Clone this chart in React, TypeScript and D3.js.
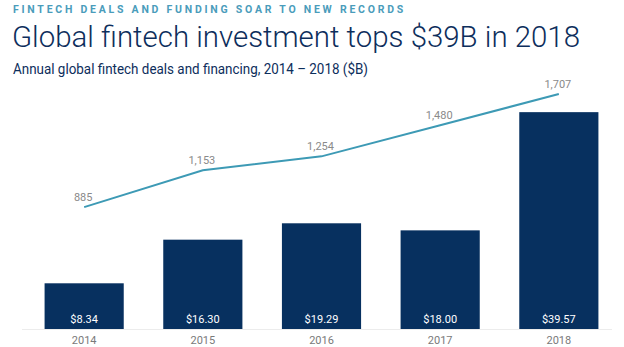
import React from "react";
import * as d3 from "d3";

const years = ["2014", "2015", "2016", "2017", "2018"];
const funding = [8.34, 16.3, 19.29, 18.0, 39.57];
const deals = [885, 1153, 1254, 1480, 1707];
const fundingLabels = ["$8.34", "$16.30", "$19.29", "$18.00", "$39.57"];
const dealLabels = ["885", "1,153", "1,254", "1,480", "1,707"];

const W = 624;
const H = 347;
const NAVY = "#07305f";
const TEAL = "#3d9ab5";

export default function App() {
  const x = d3.scaleBand<string>().domain(years).range([25, 618]).paddingInner(0.333).paddingOuter(0.165);
  const base = 329;
  const yBar = d3.scaleLinear().domain([0, 42.7]).range([base, 95]);
  const yLine = d3.scaleLinear().domain([0, 1707]).range([base, 94]);
  const line = d3
    .line<number>()
    .x((_, i) => (x(years[i]) as number) + x.bandwidth() / 2)
    .y((d) => yLine(d));

  return (
    <svg width={W} height={H} style={{ position: "absolute", left: 0, top: 0, background: "#fff" }}>
      <text x={13} y={13} fontFamily="Roboto" fontWeight={700} fontSize={10.5} fill="#4a9cbb" letterSpacing="2.76">
        FINTECH DEALS AND FUNDING SOAR TO NEW RECORDS
      </text>
      <text x={12} y={47} fontFamily="Roboto" fontWeight={300} fontSize={30} fill="#0d2e5c" textLength={568} lengthAdjust="spacingAndGlyphs">
        Global fintech investment tops $39B in 2018
      </text>
      <text x={13} y={74} fontFamily="Roboto" fontWeight={400} fontSize={14} fill="#0d2e5c" textLength={355} lengthAdjust="spacingAndGlyphs">
        Annual global fintech deals and financing, 2014 – 2018 ($B)
      </text>
      <line x1={22} x2={612} y1={base + 0.5} y2={base + 0.5} stroke="#ececec" strokeWidth={1} />
      {funding.map((v, i) => (
        <g key={years[i]}>
          <rect x={x(years[i])} y={yBar(v)} width={x.bandwidth()} height={base - yBar(v)} fill={NAVY} />
          <text
            x={(x(years[i]) as number) + x.bandwidth() / 2}
            y={323}
            textAnchor="middle"
            fontFamily="Roboto"
            fontSize={11}
            fill="#fff"
          >
            {fundingLabels[i]}
          </text>
          <text
            x={(x(years[i]) as number) + x.bandwidth() / 2}
            y={344}
            textAnchor="middle"
            fontFamily="Roboto"
            fontSize={11}
            fill="#7a7a7a"
          >
            {years[i]}
          </text>
        </g>
      ))}
      <path d={line(deals) || ""} fill="none" stroke={TEAL} strokeWidth={2} />
      {deals.map((v, i) => (
        <text
          key={"d" + i}
          x={(x(years[i]) as number) + x.bandwidth() / 2 - 1}
          y={yLine(v) - 6}
          textAnchor="middle"
          fontFamily="Roboto"
          fontSize={11}
          fill="#8a8a8a"
        >
          {dealLabels[i]}
        </text>
      ))}
    </svg>
  );
}
